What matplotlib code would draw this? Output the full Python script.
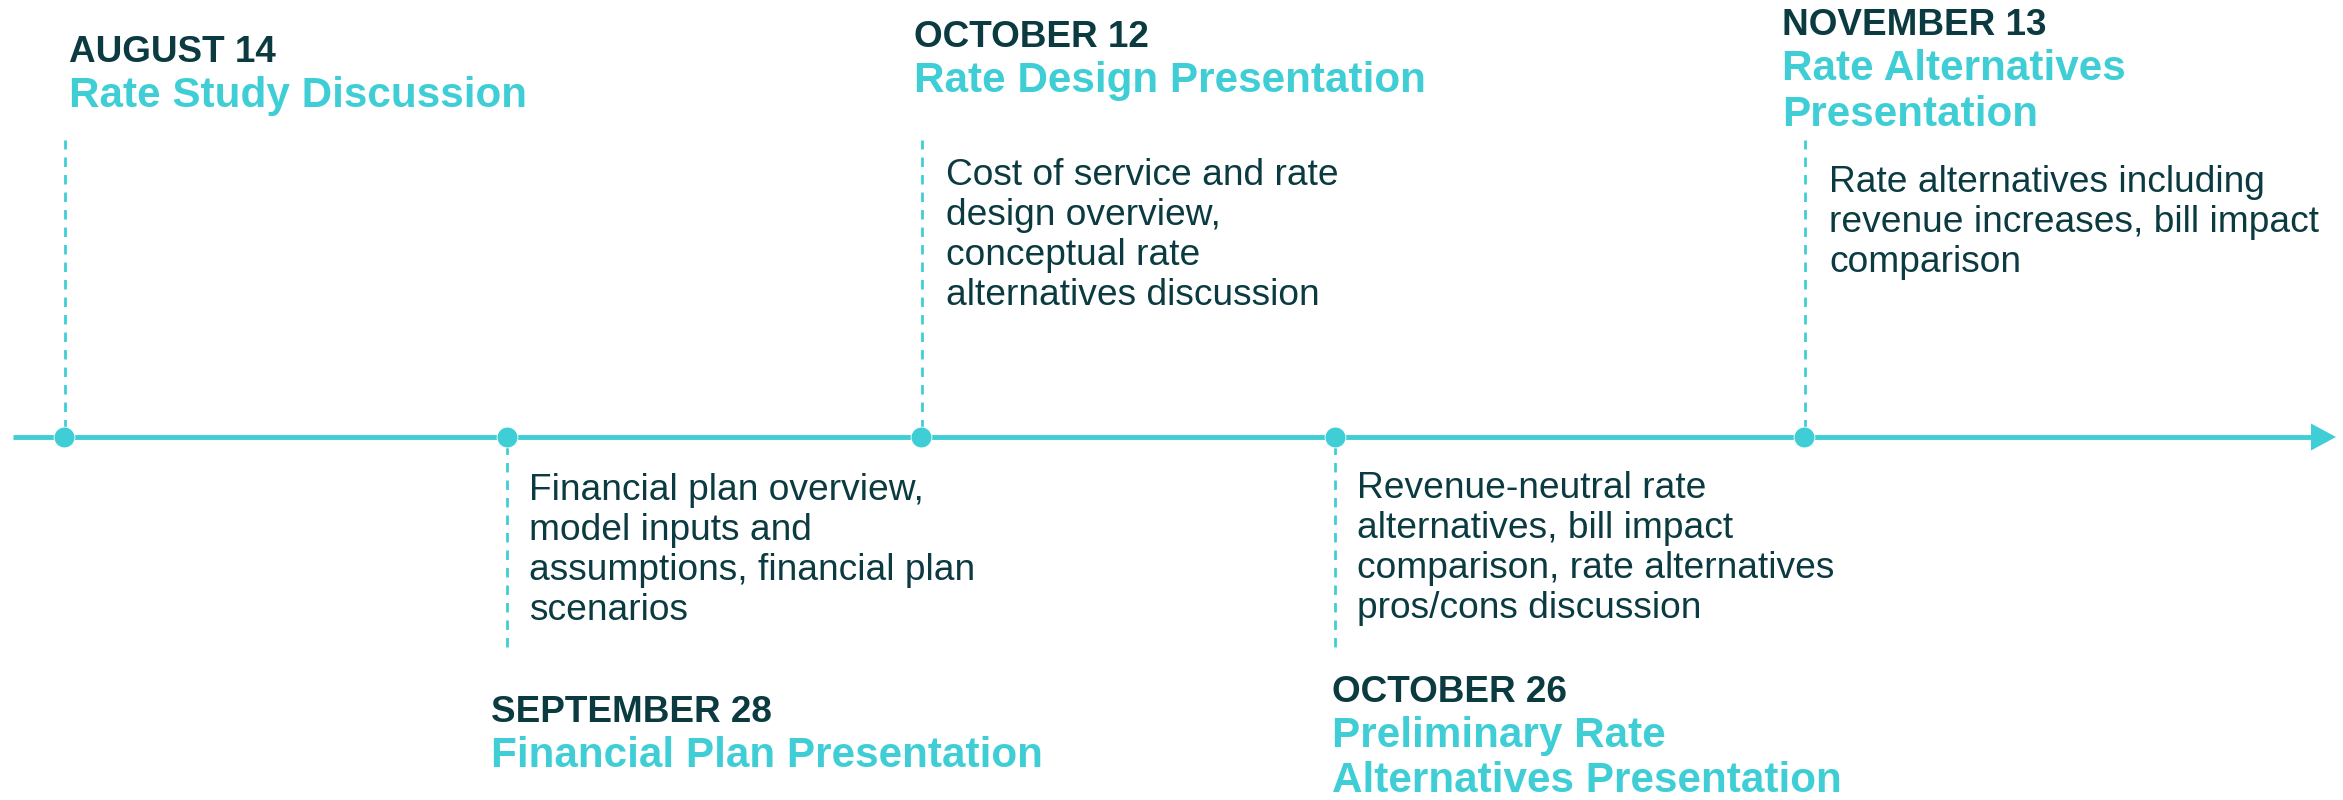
import matplotlib.pyplot as plt
from matplotlib.patches import Polygon

plt.rcParams['font.family'] = ['Liberation Sans', 'DejaVu Sans']

TEAL = '#40ced6'
DARK = '#0b3b41'

# milestones, left to right along the timeline
dates = ["AUGUST 14", "SEPTEMBER 28", "OCTOBER 12", "OCTOBER 26", "NOVEMBER 13"]
titles = [
    ["Rate Study Discussion"],
    ["Financial Plan Presentation"],
    ["Rate Design Presentation"],
    ["Preliminary Rate", "Alternatives Presentation"],
    ["Rate Alternatives", "Presentation"],
]
notes = [
    [],
    ["Financial plan overview,", "model inputs and",
     "assumptions, financial plan", "scenarios"],
    ["Cost of service and rate", "design overview,",
     "conceptual rate", "alternatives discussion"],
    ["Revenue-neutral rate", "alternatives, bill impact",
     "comparison, rate alternatives", "pros/cons discussion"],
    ["Rate alternatives including", "revenue increases, bill impact",
     "comparison"],
]
side = ["up", "down", "up", "down", "up"]
event_x = [64, 507, 921, 1335, 1804]

W, H = 2343, 800
fig = plt.figure(figsize=(W / 100, H / 100), dpi=100)
ax = fig.add_axes([0, 0, 1, 1])
ax.set_xlim(0, W)
ax.set_ylim(H, 0)
ax.axis('off')

line_y = 437
ax.plot([13, 2312], [line_y, line_y], color=TEAL, lw=3.5, solid_capstyle='butt', zorder=2)
tip = 2336
ax.add_patch(Polygon([[2311, line_y - 13.5], [tip, line_y], [2311, line_y + 13.5]],
                     closed=True, color=TEAL, lw=0, zorder=2))

date_fs, title_fs, note_fs = 26.6, 30.4, 26.7
dash = (0, (3.4, 2.9))

for i, x in enumerate(event_x):
    if side[i] == "up":
        ax.plot([x + 1, x + 1], [line_y - 8, 140], color=TEAL, lw=2.0,
                linestyle=dash, zorder=1)
        # top block: date, title lines, then notes
        date_base = {0: 62, 2: 47, 4: 35}[i]
        tx = x + 5 if i == 0 else x - 7 if i == 2 else x - 22
        ax.text(tx, date_base, dates[i], fontsize=date_fs, fontweight='bold',
                color=DARK, ha='left', va='baseline')
        for k, t in enumerate(titles[i]):
            ax.text(tx, date_base + 45 + 46 * k, t, fontsize=title_fs,
                    fontweight='bold', color=TEAL, ha='left', va='baseline')
        note_base = {0: 0, 2: 185, 4: 192}[i]
        for k, t in enumerate(notes[i]):
            ax.text(x + 25, note_base + 40 * k, t, fontsize=note_fs,
                    color=DARK, ha='left', va='baseline')
    else:
        ax.plot([x, x], [line_y + 8, 655], color=TEAL, lw=2.0,
                linestyle=dash, zorder=1)
        note_base = 500 if i == 1 else 498
        for k, t in enumerate(notes[i]):
            ax.text(x + 22, note_base + 40 * k, t, fontsize=note_fs,
                    color=DARK, ha='left', va='baseline')
        date_base = 722 if i == 1 else 702
        tx = x - 16 if i == 1 else x - 3
        ax.text(tx, date_base, dates[i], fontsize=date_fs, fontweight='bold',
                color=DARK, ha='left', va='baseline')
        for k, t in enumerate(titles[i]):
            ax.text(tx, date_base + 45 + 45 * k, t, fontsize=title_fs,
                    fontweight='bold', color=TEAL, ha='left', va='baseline')

ax.plot(event_x, [line_y] * len(event_x), 'o', color=TEAL, ms=15,
        mec='white', mew=0.6, zorder=3)

fig.savefig('out.png', dpi=100, facecolor='white')
